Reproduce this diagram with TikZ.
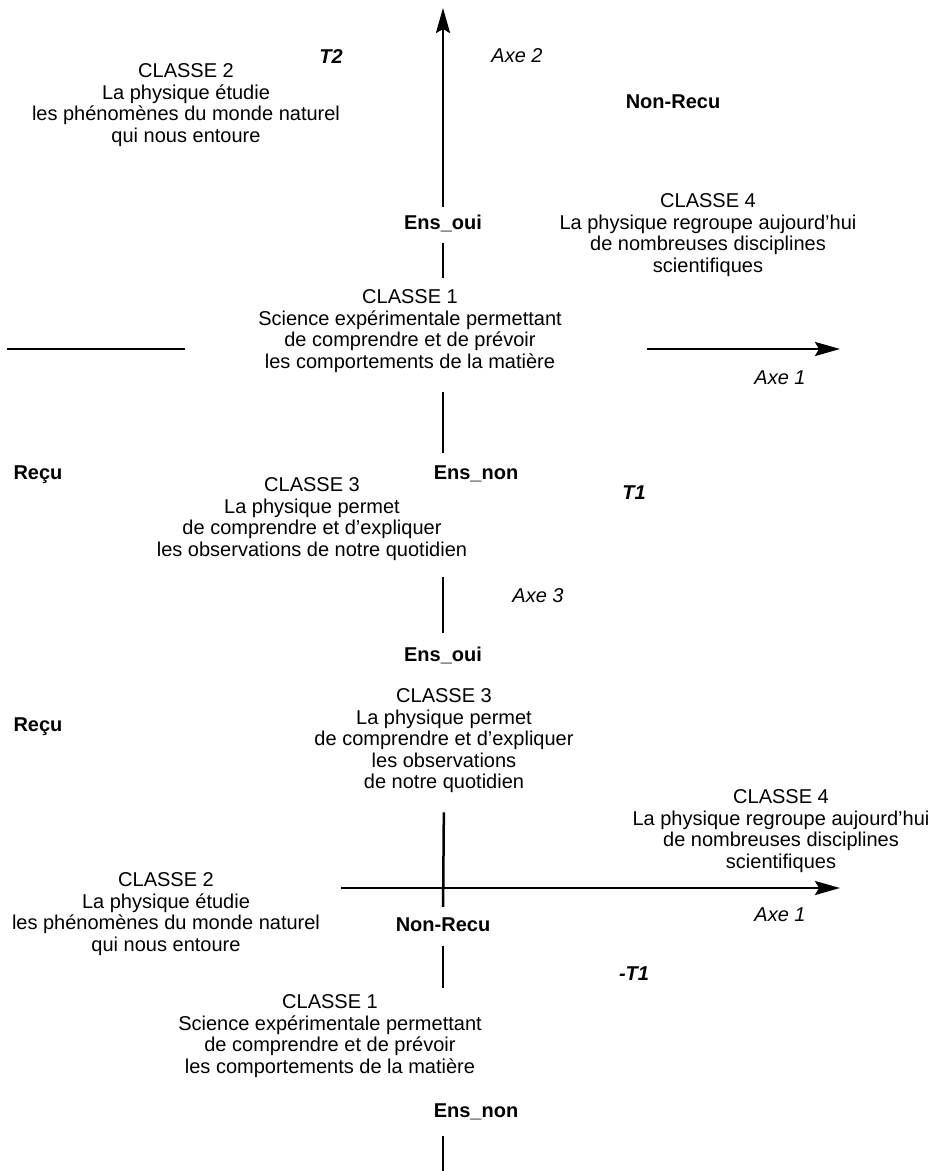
\documentclass[tikz,border=0pt]{standalone}
\usepackage{fontspec}
\setmainfont{Liberation Sans}
\usetikzlibrary{arrows.meta}

\begin{document}
\begin{tikzpicture}[x=1pt, y=-1pt,
        texte/.style={align=center, inner sep=0pt, font=\fontsize{20}{21.5}\selectfont},
        etiquette/.style={inner sep=0pt, font=\fontsize{20}{21.5}\selectfont\bfseries},
        axelabel/.style={inner sep=0pt, font=\fontsize{20}{21.5}\selectfont\itshape},
        tlabel/.style={inner sep=0pt, font=\fontsize{20}{21.5}\selectfont\bfseries\itshape},
        axe/.style={line width=2.5pt},
        fleche/.style={axe, -{Stealth[length=25pt, width=14pt, inset=4pt]}}]
        \useasboundingbox (0,0) rectangle (933,1171);

        % Premier plan : axes 1 et 2
        \node[tlabel] (t2) at (331,57) {T2};
        \node[axelabel] (axe2) at (517,56) {Axe 2};
        \node[texte] (classe2A) at (186,105) {CLASSE 2\\La physique étudie\\les phénomènes du monde naturel\\qui nous entoure};
        \node[etiquette] (nonrecuA) at (673,102) {Non-Recu};
        \node[texte] (classe4A) at (708,235) {CLASSE 4\\La physique regroupe aujourd’hui\\de nombreuses disciplines\\scientifiques};
        \node[etiquette] (ensouiA) at (443,223) {Ens\_oui};
        \node[texte] (classe1A) at (410,331) {CLASSE 1\\Science expérimentale permettant\\de comprendre et de prévoir\\les comportements de la matière};
        \node[axelabel] (axe1A) at (780,378) {Axe 1};
        \node[etiquette] (recuA) at (38,475) {Reçu};
        \node[etiquette] (ensnonA) at (476,474) {Ens\_non};
        \node[tlabel] (t1) at (634,493) {T1};
        \node[texte] (classe3A) at (312,519) {CLASSE 3\\La physique permet\\de comprendre et d’expliquer\\les observations de notre quotidien};
        \node[axelabel] (axe3) at (538,596) {Axe 3};
        \node[etiquette] (ensouiB) at (443,655) {Ens\_oui};
        \node[etiquette] (recuB) at (38,727) {Reçu};

        % Second plan : axes 1 et 3
        \node[texte] (classe3B) at (444,741) {CLASSE 3\\La physique permet\\de comprendre et d’expliquer\\les observations\\de notre quotidien};
        \node[texte] (classe4B) at (781,831) {CLASSE 4\\La physique regroupe aujourd’hui\\de nombreuses disciplines\\scientifiques};
        \node[texte] (classe2B) at (166,914) {CLASSE 2\\La physique étudie\\les phénomènes du monde naturel\\qui nous entoure};
        \node[axelabel] (axe1B) at (780,915) {Axe 1};
        \node[etiquette] (nonrecuB) at (443,925) {Non-Recu};
        \node[tlabel] (moinst1) at (634,974) {-T1};
        \node[texte] (classe1B) at (330,1036) {CLASSE 1\\Science expérimentale permettant\\de comprendre et de prévoir\\les comportements de la matière};
        \node[etiquette] (ensnonB) at (476,1112) {Ens\_non};

        % Extremites des axes
        \coordinate (sommetA) at (443,8);
        \coordinate (gaucheA) at (7,349);
        \coordinate (pointeA) at (840,349);
        \coordinate (pointeB) at (840,888);
        \coordinate (basB) at (443,1171);

        % Axes du premier plan
        \draw[fleche, shorten <=7pt] (ensouiA.north) -- (sommetA);
        \draw[axe, shorten <=11pt, shorten >=11pt] (ensouiA.south) -- (classe1A.north -| ensouiA);
        \draw[axe, shorten <=19pt, shorten >=13pt] (classe1A.south -| ensouiA) -- (ensnonA.north -| ensouiA);
        \draw[axe, shorten <=16pt, shorten >=13pt] (classe3A.south -| ensouiA) -- (ensouiB.north);
        \draw[axe, shorten >=73pt] (gaucheA) -- (classe1A.west |- gaucheA);
        \draw[fleche, shorten <=85pt] (classe1A.east |- pointeA) -- (pointeA);

        % Axes du second plan
        \draw[axe, shorten <=19pt, shorten >=11pt] (classe3B.south) -- (nonrecuB.north);
        \draw[axe, shorten <=14pt, shorten >=7pt] (nonrecuB.south) -- (classe1B.north -| nonrecuB);
        \draw[axe, shorten <=16pt] (ensnonB.south -| nonrecuB) -- (basB);
        \draw[fleche, shorten <=21pt] (classe2B.east |- pointeB) -- (pointeB);
    \end{tikzpicture}
\end{document}
